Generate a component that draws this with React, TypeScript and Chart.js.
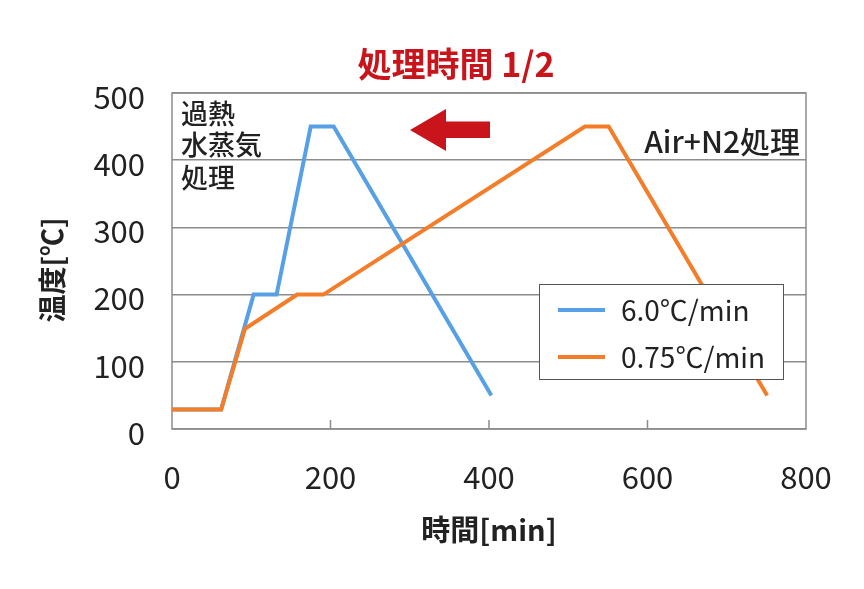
import React, { useEffect, useRef } from "react";
import { Chart, registerables } from "chart.js";

Chart.register(...registerables);

const titleText = "処理時間 1/2";
const xAxisTitle = "時間[min]";
const yAxisTitle = "温度[℃]";
const seriesLabels = ["6.0℃/min", "0.75℃/min"];
const seriesColors = ["#57a0e5", "#f47d2a"];

const blueX = [0, 62, 103, 132, 175, 204, 403];
const blueY = [29, 29, 200, 200, 450, 450, 50];
const orangeX = [0, 62, 92, 158, 191, 521, 551, 751];
const orangeY = [29, 29, 149, 200, 200, 450, 450, 50];

const xTicks = [0, 200, 400, 600, 800];
const yTicks = [0, 100, 200, 300, 400, 500];

const noteLeft = ["過熱", "水蒸気", "処理"];
const noteRight = "Air+N2処理";

const FONT = '"Noto Sans CJK JP", "Noto Sans", sans-serif';
const TEXT = "#222222";
const GRID = "#8c8c8c";
const RED = "#c8141a";

const decor = {
  id: "decor",
  beforeDatasetsDraw(chart: any) {
    const { ctx, chartArea: a, scales } = chart;
    ctx.save();
    ctx.strokeStyle = GRID;
    ctx.lineWidth = 1.5;
    for (const t of scales.x.ticks) {
      if (t.value <= scales.x.min || t.value >= scales.x.max) continue;
      const px = scales.x.getPixelForValue(t.value);
      ctx.beginPath();
      ctx.moveTo(px, a.bottom);
      ctx.lineTo(px, a.bottom - 9);
      ctx.stroke();
    }
    ctx.strokeRect(a.left, a.top, a.right - a.left, a.bottom - a.top);
    ctx.restore();
  },
  afterDraw(chart: any) {
    const { ctx, chartArea: a } = chart;
    ctx.save();
    ctx.fillStyle = RED;
    ctx.font = `bold 34px ${FONT}`;
    ctx.textAlign = "center";
    ctx.textBaseline = "middle";
    ctx.fillText(titleText, 456, 64);

    ctx.fillStyle = TEXT;
    ctx.font = `bold 29px ${FONT}`;
    ctx.fillText(xAxisTitle, (a.left + a.right) / 2, 530);
    ctx.save();
    ctx.translate(52, 270);
    ctx.rotate(-Math.PI / 2);
    ctx.font = `bold 28px ${FONT}`;
    ctx.fillText(yAxisTitle, 0, 0);
    ctx.restore();

    ctx.font = `500 27px ${FONT}`;
    ctx.textAlign = "left";
    const ys = [114, 145, 178];
    noteLeft.forEach((s, i) => ctx.fillText(s, 181, ys[i]));
    ctx.textAlign = "right";
    ctx.font = `500 30px ${FONT}`;
    ctx.fillText(noteRight, 800, 142);

    ctx.fillStyle = RED;
    ctx.beginPath();
    ctx.moveTo(410, 130);
    ctx.lineTo(446, 109);
    ctx.lineTo(446, 121.5);
    ctx.lineTo(490, 121.5);
    ctx.lineTo(490, 138);
    ctx.lineTo(446, 138);
    ctx.lineTo(446, 151);
    ctx.closePath();
    ctx.fill();

    const lx = 539, ly = 284, lw = 244, lh = 95;
    ctx.fillStyle = "#ffffff";
    ctx.fillRect(lx, ly, lw, lh);
    ctx.strokeStyle = "#555555";
    ctx.lineWidth = 1;
    ctx.strokeRect(lx + 0.5, ly + 0.5, lw, lh);
    ctx.font = `28px ${FONT}`;
    ctx.textAlign = "left";
    ctx.textBaseline = "middle";
    const rows = [310, 357];
    [0, 1].forEach((i) => {
      const ds = chart.data.datasets[i];
      ctx.strokeStyle = ds.borderColor;
      ctx.lineWidth = 4;
      ctx.beginPath();
      ctx.moveTo(558, rows[i]);
      ctx.lineTo(605, rows[i]);
      ctx.stroke();
      ctx.fillStyle = TEXT;
      ctx.fillText(ds.label, 621, rows[i]);
    });
    ctx.restore();
  },
};

export default function App() {
  const ref = useRef<HTMLCanvasElement>(null);
  useEffect(() => {
    document.body.style.margin = "0";
    const toPts = (xs: number[], ys: number[]) => xs.map((x, i) => ({ x, y: ys[i] }));
    const chart = new Chart(ref.current!, {
      type: "line",
      data: {
        datasets: [
          {
            label: seriesLabels[0],
            data: toPts(blueX, blueY),
            borderColor: seriesColors[0],
            backgroundColor: seriesColors[0],
            borderWidth: 4,
            pointRadius: 0,
            tension: 0,
            order: 1,
          },
          {
            label: seriesLabels[1],
            data: toPts(orangeX, orangeY),
            borderColor: seriesColors[1],
            backgroundColor: seriesColors[1],
            borderWidth: 4,
            pointRadius: 0,
            tension: 0,
            order: 0,
          },
        ],
      },
      options: {
        responsive: false,
        animation: false,
        layout: { padding: { top: 93, right: 58, left: 0, bottom: 0 } },
        plugins: {
          legend: { display: false },
          title: { display: false },
          tooltip: { enabled: false },
        },
        scales: {
          x: {
            type: "linear",
            min: 0,
            max: 800,
            afterBuildTicks: (s: any) => {
              s.ticks = xTicks.map((v) => ({ value: v }));
            },
            afterFit: (s: any) => {
              s.height = 160;
            },
            grid: { display: false, drawTicks: false },
            border: { display: false },
            ticks: {
              font: { size: 31, family: FONT },
              color: TEXT,
              padding: 30,
              maxRotation: 0,
            },
          },
          y: {
            type: "linear",
            min: 0,
            max: 500,
            afterBuildTicks: (s: any) => {
              s.ticks = yTicks.map((v) => ({ value: v }));
            },
            afterFit: (s: any) => {
              s.width = 172;
            },
            grid: { color: GRID, lineWidth: 1.5, drawTicks: false },
            border: { display: false },
            ticks: {
              font: { size: 31, family: FONT },
              color: TEXT,
              padding: 27,
              labelOffset: 4,
            },
          },
        },
      },
      plugins: [decor],
    } as any);
    return () => chart.destroy();
  }, []);
  return <canvas ref={ref} width={864} height={589} style={{ display: "block" }} />;
}
